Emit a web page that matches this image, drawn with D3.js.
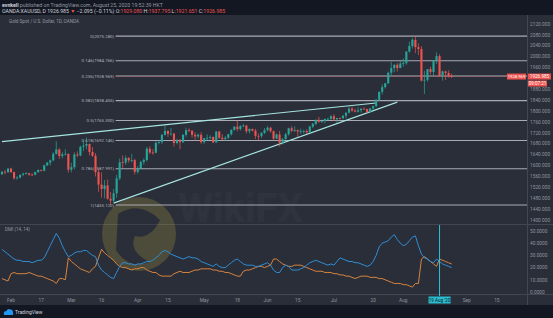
<!DOCTYPE html>
<html>
<head>
<meta charset="utf-8">
<script src="https://cdn.jsdelivr.net/npm/d3@7"></script>
<style>
	body { margin: 0; background: #131722; }
	svg { display: block; font-family: Roboto, "Noto Sans", sans-serif; }
</style>
</head>
<body>
<svg id="chart" width="553" height="318"></svg>
<script>

// trading days on the axis (weekdays), first candle on the first day
var firstDay = "2020-01-29"
var lastDay = "2020-09-28"

var open  = [1568,1577,1576,1589,1576,1553,1556,1566,1570,1572,1567,1566,1576,1584,1581,1601,1611,1619,1643,1659,1635,1641,1643,1585,1594,1641,1637,1669,1673,1679,1650,1636,1576,1530,1514,1527,1478,1471,1498,1553,1612,1611,1628,1619,1620,1577,1591,1613,1620,1662,1648,1647,1683,1686,1713,1727,1716,1717,1683,1694,1686,1713,1730,1728,1713,1707,1713,1686,1700,1702,1705,1685,1725,1702,1697,1702,1715,1731,1743,1734,1745,1747,1726,1734,1728,1709,1708,1720,1730,1739,1726,1699,1714,1684,1697,1715,1737,1728,1730,1725,1726,1727,1722,1743,1753,1768,1761,1763,1771,1772,1781,1770,1775,1774,1783,1794,1809,1802,1798,1803,1809,1808,1796,1810,1818,1842,1871,1888,1902,1941,1958,1970,1958,1975,1976,2019,2039,2062,2035,2028,1912,1915,1954,1944,1985,2002,1929,1946,1940,1929.08]
var high  = [1580,1584,1590,1592,1578,1561,1567,1574,1576,1573,1571,1578,1586,1585,1604,1613,1622,1649,1689,1663,1650,1660,1644,1610,1649,1652,1673,1692,1703,1681,1668,1646,1590,1575,1547,1549,1503,1514,1566,1626,1637,1637,1631,1643,1625,1598,1618,1627,1668,1671,1660,1690,1691,1716,1747,1730,1738,1720,1698,1698,1715,1739,1737,1730,1722,1718,1723,1702,1715,1711,1707,1726,1727,1715,1709,1717,1734,1744,1765,1748,1753,1748,1737,1736,1735,1718,1723,1738,1745,1742,1729,1718,1727,1701,1720,1739,1745,1744,1733,1736,1732,1733,1746,1757,1769,1779,1769,1773,1775,1785,1789,1775,1777,1786,1796,1818,1817,1809,1814,1810,1814,1808,1811,1820,1843,1871,1898,1904,1945,1981,1972,1976,1984,1994,2019,2055,2069,2075,2049,2039,1948,1954,1963,1988,2016,2009,1948,1948,1950,1937.795]
var low   = [1565,1568,1572,1573,1548,1548,1553,1561,1567,1561,1562,1564,1573,1578,1579,1598,1600,1617,1640,1624,1627,1637,1574,1575,1586,1631,1634,1653,1660,1638,1632,1560,1504,1482,1480,1475,1455,1463,1482,1546,1592,1603,1610,1612,1567,1570,1585,1603,1615,1642,1640,1645,1678,1680,1710,1705,1710,1670,1678,1660,1683,1706,1723,1702,1691,1700,1680,1680,1693,1695,1682,1683,1698,1694,1691,1698,1710,1728,1726,1728,1741,1718,1718,1725,1698,1693,1701,1716,1725,1721,1693,1697,1670,1677,1696,1710,1722,1723,1705,1716,1717,1716,1720,1738,1748,1757,1756,1755,1766,1768,1763,1757,1769,1770,1773,1792,1797,1795,1795,1794,1806,1794,1794,1804,1815,1837,1861,1883,1900,1932,1943,1945,1958,1963,1970,2015,2030,2013,2006,1909,1863,1908,1935,1930,1973,1926,1912,1914,1923,1921.651]
var close = [1577,1576,1589,1576,1553,1556,1566,1570,1572,1567,1566,1576,1584,1581,1601,1611,1619,1643,1659,1635,1641,1643,1585,1594,1641,1637,1669,1673,1679,1650,1636,1576,1530,1514,1527,1478,1471,1498,1553,1612,1611,1628,1619,1620,1577,1591,1613,1620,1662,1648,1647,1683,1686,1713,1727,1716,1717,1683,1694,1686,1713,1730,1728,1713,1707,1713,1686,1700,1702,1705,1685,1725,1702,1697,1702,1715,1731,1743,1734,1745,1747,1726,1734,1728,1709,1708,1720,1730,1739,1726,1699,1714,1684,1697,1715,1737,1728,1730,1725,1726,1727,1722,1743,1753,1768,1761,1763,1771,1772,1781,1770,1775,1774,1783,1794,1809,1802,1798,1803,1809,1808,1796,1810,1818,1842,1871,1888,1902,1941,1958,1970,1958,1975,1976,2019,2039,2062,2035,2028,1912,1915,1954,1944,1985,2002,1929,1946,1940,1928,1926.985]

// DMI (14, 14)
var plusDI  = [35,33,31,29,27,26,26,25,25,25,24,25,26,26,28,33,38,43,48,44,38,33,29,30,32,33,33,34,34,32,30,29,22,18,16,14,12,11,16,21,24,24,23,23,22,23,23,24,25,25,26,28,30,33,34,33,31,30,29,28,27,28,29,28,28,27,25,24,23,22,21,23,21,20,20,22,24,26,27,25,23,22,22,22,21,21,22,23,24,22,18,16,16,20,22,21,18,18,18,19,20,22,24,25,26,25,24,23,22,23,22,25,28,27,26,25,25,24,24,23,22,21,22,25,30,37,40,41,42,45,47,43,40,38,39,42,45,46,38,31,28,27,25,24,27,25,23,22,21,20]
var minusDI = [11,10,9,15,16,15,15,15,15,16,15,14,13,13,12,11,10,9,7,11,11,10,28,25,23,21,19,18,17,16,19,21,28,35,32,30,28,26,23,21,20,20,19,18,19,19,20,20,18,17,16,16,14,13,13,13,13,15,16,17,16,16,16,17,18,18,19,19,19,19,18,18,17,17,16,16,15,14,13,13,17,18,18,19,20,21,21,20,21,22,27,27,25,23,22,21,21,22,22,22,21,20,19,18,17,17,17,16,16,16,15,15,14,14,13,13,12,11,12,13,13,13,12,12,12,11,11,10,9,8,7,7,7,6,6,5,4,7,7,27,29,27,25,23,21,27,26,25,24,23]

var priceTicks = [2120,2080,2040,2000,1960,1880,1840,1800,1760,1720,1680,1640,1600,1560,1520,1480,1440,1400]
var diTicks = [50,40,30,20,10,0]

var fibRatios = ["0","0.146","0.236","0.382","0.5","0.618","0.786","1"]
var fibPrices = [2075.280,1984.766,1928.969,1838.455,1765.300,1692.145,1587.991,1455.120]
var fibStart = "2020-03-20"

var trendFrom = [["2020-01-29",1688],["2020-03-20",1462]]
var trendTo   = [["2020-07-21",1830],["2020-07-30",1833]]

var dateTicks  = ["2020-02-03","2020-02-17","2020-03-02","2020-03-16","2020-04-01","2020-04-15","2020-05-01","2020-05-18","2020-06-01","2020-06-15","2020-07-01","2020-07-20","2020-08-03","2020-09-01","2020-09-15"]
var dateLabels = ["Feb","17","Mar","16","Apr","15","May","18","Jun","15","Jul","20","Aug","Sep","15"]
var crossDay = "2020-08-19"
var lastPrice = 1926.985

var fmt = d3.timeFormat("%Y-%m-%d")
var parse = d3.timeParse("%Y-%m-%d")

var days = d3.timeDay.range(parse(firstDay), d3.timeDay.offset(parse(lastDay), 1))
	.filter(function(d) { return d.getDay() !== 0 && d.getDay() !== 6 })
	.map(fmt)

var candles = open.map(function(o, i) {
	return { day: days[i], o: o, h: high[i], l: low[i], c: close[i], p: plusDI[i], m: minusDI[i] }
})

var width = 553, plotRight = 527
var up = "#26a69a", down = "#ef5350"

var x = d3.scaleBand().domain(days).range([0, 526]).padding(0.3)
var cx = function(d) { return x(d) + x.bandwidth() / 2 }

var y = d3.scaleLinear().domain([1400, 2120]).range([220, 24])
var yDI = d3.scaleLinear().domain([0, 50]).range([292, 231])

var svg = d3.select("#chart")

// backgrounds
svg.append("rect").attr("width", width).attr("height", 318).attr("fill", "#131722")
svg.append("rect").attr("x", 0).attr("y", 15).attr("width", width).attr("height", 290).attr("fill", "#2a2e39")
svg.append("line").attr("x1", plotRight + 0.5).attr("x2", plotRight + 0.5).attr("y1", 15).attr("y2", 305).attr("stroke", "#434651")
svg.append("line").attr("x1", 0).attr("x2", width).attr("y1", 224.5).attr("y2", 224.5).attr("stroke", "#434651")
svg.append("line").attr("x1", 0).attr("x2", width).attr("y1", 294.5).attr("y2", 294.5).attr("stroke", "#434651")

var defs = svg.append("defs")
defs.append("clipPath").attr("id", "clipPrice").append("rect").attr("x", 0).attr("y", 15).attr("width", plotRight).attr("height", 209)
defs.append("clipPath").attr("id", "clipDI").append("rect").attr("x", 0).attr("y", 225).attr("width", plotRight).attr("height", 69)

// header
var head = svg.append("g").attr("font-size", 5.2)
var h1 = head.append("text").attr("x", 2).attr("y", 6.5)
h1.append("tspan").attr("fill", "#d1d4dc").attr("font-weight", "bold").text("evnkell")
h1.append("tspan").attr("fill", "#9598a1").text(" published on TradingView.com, August 25, 2020 19:52:39 HKT")
var h2 = head.append("text").attr("x", 2).attr("y", 12.5).attr("fill", "#d1d4dc")
h2.append("tspan").text("OANDA:XAUUSD, D  1926.985 ")
h2.append("tspan").attr("fill", down).text("▼")
h2.append("tspan").text(" −2.095 (−0.11%) O:")
h2.append("tspan").attr("fill", down).text("1929.080")
h2.append("tspan").text(" H:")
h2.append("tspan").attr("fill", down).text("1937.795")
h2.append("tspan").text(" L:")
h2.append("tspan").attr("fill", down).text("1921.651")
h2.append("tspan").text(" C:")
h2.append("tspan").attr("fill", down).text("1926.985")

svg.append("text").attr("x", 9).attr("y", 23).attr("font-size", 4.6).attr("fill", "#9598a1")
	.text("Gold Spot / U.S. Dollar, 1D, OANDA")

// watermark
var wm = svg.append("g").attr("opacity", 0.22)
wm.append("circle").attr("cx", 139).attr("cy", 234).attr("r", 37).attr("fill", "#c9b23a")
wm.append("path").attr("d", "M118,214 Q140,200 160,220 Q150,240 135,236 Q128,252 150,262 Q128,270 116,250 Z").attr("fill", "#2a2e39")
svg.append("text").attr("x", 178).attr("y", 222).attr("font-size", 40).attr("font-weight", "bold")
	.attr("fill", "#ffffff").attr("opacity", 0.025).text("WikiFX")

// price pane
var price = svg.append("g").attr("clip-path", "url(#clipPrice)")

var fibX = cx(fibStart) + 2

price.selectAll(".fib")
	.data(fibPrices)
	.enter()
	.append("line")
	.attr("class", "fib")
	.attr("x1", fibX)
	.attr("x2", plotRight)
	.attr("y1", function(d) { return y(d) })
	.attr("y2", function(d) { return y(d) })
	.attr("stroke", "#a8abb4")
	.attr("stroke-width", 1.1)

price.selectAll(".fibLabel")
	.data(fibPrices)
	.enter()
	.append("text")
	.attr("class", "fibLabel")
	.attr("x", fibX - 1.5)
	.attr("y", function(d) { return y(d) + 1.6 })
	.attr("text-anchor", "end")
	.attr("font-size", 4.4)
	.attr("fill", "#b2b5be")
	.text(function(d, i) { return fibRatios[i] + "(" + d.toFixed(3) + ")" })

// last price line
price.append("line")
	.attr("x1", fibX).attr("x2", plotRight)
	.attr("y1", y(lastPrice)).attr("y2", y(lastPrice))
	.attr("stroke", down).attr("stroke-width", 1).attr("stroke-dasharray", "1,1").attr("opacity", 0.45)

// trend lines
price.selectAll(".trend")
	.data(trendFrom)
	.enter()
	.append("line")
	.attr("class", "trend")
	.attr("x1", function(d) { return cx(d[0]) })
	.attr("y1", function(d) { return y(d[1]) })
	.attr("x2", function(d, i) { return cx(trendTo[i][0]) })
	.attr("y2", function(d, i) { return y(trendTo[i][1]) })
	.attr("stroke", "#a5e4e0")
	.attr("stroke-width", 1.1)

// candles
var candle = price.selectAll(".candle")
	.data(candles)
	.enter()
	.append("g")
	.attr("class", "candle")
	.attr("fill", function(d) { return d.c >= d.o ? up : down })
	.attr("stroke", function(d) { return d.c >= d.o ? up : down })

candle.append("line")
	.attr("x1", function(d) { return cx(d.day) })
	.attr("x2", function(d) { return cx(d.day) })
	.attr("y1", function(d) { return y(d.h) })
	.attr("y2", function(d) { return y(d.l) })
	.attr("stroke-width", 0.7)

candle.append("rect")
	.attr("stroke", "none")
	.attr("x", function(d) { return x(d.day) })
	.attr("width", x.bandwidth())
	.attr("y", function(d) { return y(Math.max(d.o, d.c)) })
	.attr("height", function(d) { return Math.max(0.8, Math.abs(y(d.o) - y(d.c))) })

// price axis
svg.append("g")
	.selectAll("text")
	.data(priceTicks)
	.enter()
	.append("text")
	.attr("x", 530)
	.attr("y", function(d) { return y(d) + 1.7 })
	.attr("font-size", 4.8)
	.attr("fill", "#8f939e")
	.text(function(d) { return d3.format(".3f")(d) })

// price labels on the axis
var pl = svg.append("g")
pl.append("rect").attr("x", 528).attr("y", y(lastPrice) - 3).attr("width", 23).attr("height", 6).attr("fill", down)
pl.append("text").attr("x", 539.5).attr("y", y(lastPrice) + 1.7).attr("text-anchor", "middle")
	.attr("font-size", 4.6).attr("fill", "#ffffff").text(lastPrice.toFixed(3))
pl.append("rect").attr("x", 528).attr("y", y(lastPrice) + 4).attr("width", 19).attr("height", 6).attr("fill", down)
pl.append("text").attr("x", 537.5).attr("y", y(lastPrice) + 8.7).attr("text-anchor", "middle")
	.attr("font-size", 4.6).attr("fill", "#ffffff").text("09:07:21")
pl.append("rect").attr("x", 507).attr("y", y(lastPrice) - 3).attr("width", 19).attr("height", 6).attr("fill", down)
pl.append("text").attr("x", 516.5).attr("y", y(lastPrice) + 1.7).attr("text-anchor", "middle")
	.attr("font-size", 4.2).attr("fill", "#ffffff").text(fibPrices[2].toFixed(3))

// DMI pane
svg.append("text").attr("x", 5).attr("y", 231).attr("font-size", 4.6).attr("fill", "#9598a1").text("DMI (14, 14)")

var dmi = svg.append("g").attr("clip-path", "url(#clipDI)")

var linePlus = d3.line().x(function(d) { return cx(d.day) }).y(function(d) { return yDI(d.p) })
var lineMinus = d3.line().x(function(d) { return cx(d.day) }).y(function(d) { return yDI(d.m) })

dmi.append("path").datum(candles).attr("d", lineMinus).attr("fill", "none").attr("stroke", "#d9843f").attr("stroke-width", 1)
dmi.append("path").datum(candles).attr("d", linePlus).attr("fill", "none").attr("stroke", "#2e8fd6").attr("stroke-width", 1)

svg.append("g")
	.selectAll("text")
	.data(diTicks)
	.enter()
	.append("text")
	.attr("x", 530)
	.attr("y", function(d) { return yDI(d) + 1.7 })
	.attr("font-size", 4.8)
	.attr("fill", "#8f939e")
	.text(function(d) { return d3.format(".4f")(d) })

// crosshair
svg.append("line")
	.attr("x1", cx(crossDay)).attr("x2", cx(crossDay))
	.attr("y1", 225).attr("y2", 296)
	.attr("stroke", "#2bc4d8").attr("stroke-width", 1)

// time axis
svg.append("g")
	.selectAll("text")
	.data(dateTicks)
	.enter()
	.append("text")
	.attr("x", function(d) { return cx(d) })
	.attr("y", 302)
	.attr("text-anchor", "middle")
	.attr("font-size", 4.8)
	.attr("fill", "#8f939e")
	.text(function(d, i) { return dateLabels[i] })

svg.append("rect").attr("x", cx(crossDay) - 11).attr("y", 296.5).attr("width", 22).attr("height", 7).attr("fill", "#2bbcd0")
svg.append("text").attr("x", cx(crossDay)).attr("y", 301.8).attr("text-anchor", "middle")
	.attr("font-size", 4.6).attr("fill", "#131722").text("19 Aug '20")

// footer logo
var logo = svg.append("g")
logo.append("path").attr("d", "M4,315 Q3,311 6.5,311 Q7.5,308 10.5,309.5 Q13,309.5 13,312.5 Q14,315 12,315 Z").attr("fill", "#2196f3")
logo.append("text").attr("x", 15).attr("y", 314).attr("font-size", 5).attr("fill", "#d1d4dc").text("TradingView")

</script>
</body>
</html>
